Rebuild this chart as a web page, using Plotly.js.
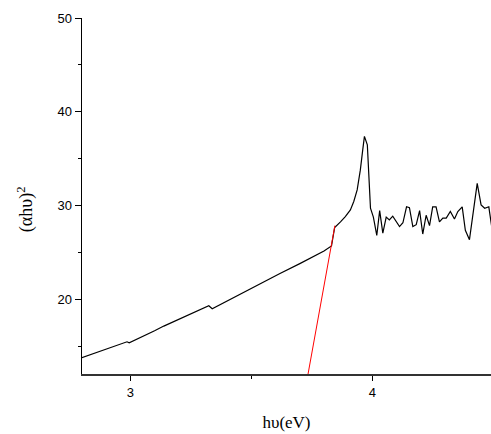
<!DOCTYPE html>
<html><head><meta charset="utf-8">
<script src="https://cdn.plot.ly/plotly-3.0.1.min.js"></script>
<style>html,body{margin:0;padding:0;background:#fff}#chart{width:491px;height:434px}</style>
</head><body><div id="chart"></div>
<script>
// Measured curve: photon energy (eV) and (alpha h nu)^2
var energy = [2.78,2.80,2.85,2.90,2.95,2.986,2.995,3.05,3.10,3.138,3.20,3.25,3.30,3.324,3.338,3.40,3.48,3.55,3.618,3.70,3.756,3.80,3.831,
  3.844,3.868,3.888,3.909,3.923,3.937,3.950,3.960,3.967,3.979,3.992,4.004,4.018,4.030,4.043,4.057,4.070,4.084,4.098,4.112,4.126,4.141,4.153,4.167,4.181,
  4.195,4.208,4.222,4.236,4.249,4.263,4.277,4.291,4.305,4.322,4.339,4.353,4.371,4.384,4.401,4.433,4.449,4.464,4.481,4.495];
var absorb = [13.65,13.83,14.35,14.79,15.22,15.53,15.42,16.05,16.7,17.2,17.9,18.5,19.05,19.36,19.05,19.9,20.96,21.9,22.8,23.85,24.6,25.2,25.74,
  27.7,28.3,28.86,29.57,30.46,31.7,33.8,35.96,37.4,36.5,29.75,28.8,26.85,29.5,27.1,28.8,28.5,28.9,28.3,27.8,28.2,29.9,29.8,27.8,28.0,
  29.5,27.0,29.0,27.9,29.9,29.9,28.3,28.7,28.7,29.4,28.6,29.4,29.9,27.4,26.4,32.4,30.1,29.75,29.9,27.4];
// Linear extrapolation (Tauc fit) line
var fitX = [3.72, 3.845];
var fitY = [10.1, 27.9];

var xTicks = [3, 4];
var yTicks = [20, 30, 40, 50];

Plotly.newPlot('chart', [
  {x: energy, y: absorb, mode: 'lines', line: {color: '#000', width: 1.2}, hoverinfo: 'skip'},
  {x: fitX, y: fitY, mode: 'lines', line: {color: '#ff0000', width: 1}, hoverinfo: 'skip'}
], {
  width: 491, height: 434,
  margin: {l: 82, r: 0, t: 18, b: 60},
  paper_bgcolor: '#fff', plot_bgcolor: '#fff',
  showlegend: false,
  font: {family: 'Liberation Sans, Arial, sans-serif', size: 13, color: '#000'},
  xaxis: {
    range: [2.8, 4.49], tickvals: xTicks, ticktext: xTicks.map(String),
    showgrid: false, zeroline: false, showline: true, linecolor: '#333', linewidth: 2,
    ticks: 'outside', ticklen: 5, tickwidth: 1, tickcolor: '#000',
    minor: {tickvals: [3.5], ticks: 'outside', ticklen: 3, tickwidth: 1, tickcolor: '#000'},
    title: {text: 'h\u03c5(eV)', font: {family: 'Liberation Serif, Times New Roman, serif', size: 17}, standoff: 18}
  },
  yaxis: {
    range: [12.1, 50], tickvals: yTicks, ticktext: yTicks.map(String),
    showgrid: false, zeroline: false, showline: true, linecolor: '#000', linewidth: 1.5,
    ticks: 'outside', ticklen: 6, tickwidth: 1, tickcolor: '#000',
    minor: {tickvals: [15, 25, 35, 45], ticks: 'outside', ticklen: 3, tickwidth: 1, tickcolor: '#000'}
  },
  annotations: [{
    text: '(\u03b1h\u03c5)<sup>2</sup>', xref: 'paper', yref: 'paper',
    x: -0.137, y: 0.463, xanchor: 'center', yanchor: 'middle', textangle: -90, showarrow: false,
    font: {family: 'Liberation Serif, Times New Roman, serif', size: 18, color: '#000'}
  }]
}, {staticPlot: true});
</script></body></html>
